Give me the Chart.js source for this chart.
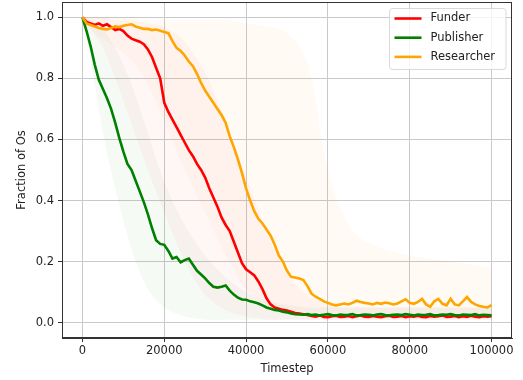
<!DOCTYPE html>
<html>
<head>
<meta charset="utf-8">
<script src="https://cdn.jsdelivr.net/npm/chart.js@4/dist/chart.umd.min.js"></script>
<style>
  body { margin: 0; background: #fff; }
  #wrap { width: 523px; height: 380px; }
</style>
</head>
<body>
<div id="wrap"><canvas id="chart" width="523" height="380"></canvas></div>
<script>
// start: data
const timesteps = []
for (let i = 0; i <= 100; i++) timesteps.push(i * 1000)

const funder = [
    1.000, 0.985, 0.980, 0.975, 0.980, 0.972, 0.977, 0.968, 0.958, 0.962,
    0.955, 0.940, 0.930, 0.925, 0.920, 0.912, 0.895, 0.870, 0.835, 0.800,
    0.720, 0.690, 0.665, 0.640, 0.615, 0.590, 0.565, 0.545, 0.520, 0.500,
    0.475, 0.440, 0.410, 0.380, 0.345, 0.320, 0.300, 0.265, 0.230, 0.195,
    0.175, 0.165, 0.155, 0.135, 0.110, 0.080, 0.060, 0.050, 0.046, 0.042,
    0.040, 0.036, 0.032, 0.030, 0.028, 0.025, 0.022, 0.020, 0.024, 0.019,
    0.018, 0.021, 0.023, 0.019, 0.020, 0.022, 0.018, 0.021, 0.024, 0.020,
    0.019, 0.022, 0.020, 0.018, 0.021, 0.023, 0.019, 0.020, 0.022, 0.018,
    0.021, 0.020, 0.023, 0.019, 0.018, 0.022, 0.020, 0.021, 0.024, 0.019,
    0.020, 0.022, 0.018, 0.021, 0.019, 0.023, 0.020, 0.018, 0.021, 0.020,
    0.021
]
const publisher = [
    1.000, 0.955, 0.905, 0.845, 0.795, 0.765, 0.735, 0.700, 0.655, 0.605,
    0.560, 0.520, 0.500, 0.465, 0.430, 0.395, 0.355, 0.310, 0.270, 0.258,
    0.255, 0.235, 0.210, 0.215, 0.198, 0.205, 0.210, 0.190, 0.170, 0.158,
    0.145, 0.130, 0.118, 0.115, 0.118, 0.122, 0.105, 0.092, 0.082, 0.076,
    0.075, 0.070, 0.067, 0.063, 0.057, 0.050, 0.046, 0.042, 0.040, 0.036,
    0.034, 0.030, 0.028, 0.027, 0.026, 0.028, 0.025, 0.027, 0.024, 0.026,
    0.028, 0.025, 0.024, 0.027, 0.025, 0.026, 0.028, 0.024, 0.025, 0.027,
    0.026, 0.024, 0.027, 0.028, 0.025, 0.024, 0.026, 0.027, 0.025, 0.028,
    0.026, 0.024, 0.027, 0.025, 0.026, 0.028, 0.024, 0.025, 0.027, 0.026,
    0.028, 0.025, 0.024, 0.027, 0.026, 0.025, 0.028, 0.024, 0.026, 0.025,
    0.024
]
const researcher = [
    1.000, 0.980, 0.975, 0.970, 0.965, 0.962, 0.960, 0.965, 0.970, 0.968,
    0.972, 0.975, 0.977, 0.970, 0.966, 0.962, 0.962, 0.958, 0.960, 0.956,
    0.952, 0.948, 0.922, 0.900, 0.890, 0.875, 0.855, 0.840, 0.815, 0.785,
    0.760, 0.740, 0.720, 0.700, 0.680, 0.655, 0.610, 0.575, 0.535, 0.490,
    0.440, 0.400, 0.365, 0.340, 0.325, 0.305, 0.285, 0.255, 0.220, 0.200,
    0.170, 0.150, 0.148, 0.145, 0.140, 0.120, 0.095, 0.085, 0.078, 0.070,
    0.065, 0.060, 0.057, 0.060, 0.063, 0.060, 0.065, 0.072, 0.068, 0.065,
    0.063, 0.060, 0.065, 0.062, 0.066, 0.064, 0.060, 0.063, 0.070, 0.077,
    0.065, 0.062, 0.068, 0.078, 0.060, 0.052, 0.070, 0.078, 0.062, 0.057,
    0.078, 0.060, 0.057, 0.070, 0.084, 0.068, 0.060, 0.055, 0.052, 0.050,
    0.058
]

// faint spread of the individual runs (lower / upper edge)
const bandSteps = [0, 2000, 5000, 8000, 12000, 16000, 20000, 25000, 30000, 35000, 40000, 45000, 50000, 55000, 60000, 65000, 70000, 80000, 90000, 100000]
const funderLow = [1.0, 0.96, 0.90, 0.80, 0.65, 0.50, 0.36, 0.20, 0.09, 0.04, 0.02, 0.01, 0.01, 0.01, 0.01, 0.01, 0.01, 0.01, 0.01, 0.01]
const funderHigh = [1.0, 1.0, 1.0, 0.99, 0.99, 0.98, 0.97, 0.92, 0.82, 0.66, 0.48, 0.30, 0.16, 0.09, 0.06, 0.05, 0.05, 0.05, 0.05, 0.05]
const publisherLow = [1.0, 0.86, 0.62, 0.44, 0.24, 0.11, 0.05, 0.02, 0.01, 0.01, 0.01, 0.01, 0.01, 0.01, 0.01, 0.01, 0.01, 0.01, 0.01, 0.01]
const publisherHigh = [1.0, 0.99, 0.96, 0.90, 0.78, 0.62, 0.46, 0.32, 0.22, 0.15, 0.10, 0.07, 0.06, 0.05, 0.05, 0.05, 0.05, 0.05, 0.05, 0.05]
const researcherLow = [1.0, 0.96, 0.93, 0.90, 0.86, 0.78, 0.66, 0.50, 0.36, 0.22, 0.11, 0.06, 0.035, 0.03, 0.03, 0.03, 0.03, 0.03, 0.03, 0.03]
const researcherHigh = [1.0, 1.0, 1.0, 1.0, 1.0, 0.99, 0.99, 0.99, 0.99, 0.99, 0.98, 0.97, 0.95, 0.85, 0.50, 0.32, 0.26, 0.22, 0.20, 0.18]

const xTicks = [0, 20000, 40000, 60000, 80000, 100000]
const yTicks = [0, 0.2, 0.4, 0.6, 0.8, 1.0]
// end: data

const FONT = 'DejaVu Sans'

function toPoints(xs, ys) {
    return xs.map(function (x, i) { return { x: x, y: ys[i] } })
}
function mainLine(label, ys, color, order) {
    return {
        label: label,
        data: toPoints(timesteps, ys),
        borderColor: color,
        backgroundColor: color,
        borderWidth: 2.6,
        pointRadius: 0,
        tension: 0,
        fill: false,
        order: order,
        main: true
    }
}
function bandPair(low, high, fillColor) {
    return [
        { label: '', data: toPoints(bandSteps, low), borderWidth: 0, borderColor: 'transparent', pointRadius: 0, tension: 0.3, fill: false, order: 10 },
        { label: '', data: toPoints(bandSteps, high), borderWidth: 0, borderColor: 'transparent', backgroundColor: fillColor, pointRadius: 0, tension: 0.3, fill: '-1', order: 10 }
    ]
}

// legend + frame drawn like matplotlib
const frameLegend = {
    id: 'frameLegend',
    afterDraw: function (chart) {
        const ctx = chart.ctx
        const a = chart.chartArea
        ctx.save()
        ctx.strokeStyle = '#333'
        ctx.lineWidth = 1
        ctx.strokeRect(a.left + 0.5, a.top + 0.5, a.right - a.left - 1, a.bottom - a.top - 1)

        const items = chart.data.datasets.filter(function (d) { return d.main })
        const bx = a.right - 122.5, by = a.top + 6.5, bw = 116.5, bh = 61
        ctx.beginPath()
        ctx.roundRect(bx, by, bw, bh, 3)
        ctx.fillStyle = 'rgba(255,255,255,0.8)'
        ctx.fill()
        ctx.strokeStyle = '#d9d9d9'
        ctx.stroke()
        ctx.font = '11.5px "' + FONT + '"'
        ctx.textBaseline = 'middle'
        items.forEach(function (d, i) {
            const y = by + 10 + i * 19.2
            ctx.beginPath()
            ctx.moveTo(bx + 5, y)
            ctx.lineTo(bx + 32, y)
            ctx.strokeStyle = d.borderColor
            ctx.lineWidth = 2.6
            ctx.stroke()
            ctx.fillStyle = '#222'
            ctx.fillText(d.label, bx + 41, y)
        })
        ctx.restore()
    }
}

new Chart(document.getElementById('chart'), {
    type: 'line',
    data: {
        datasets: [
            mainLine('Funder', funder, '#ff0000', 2),
            mainLine('Publisher', publisher, '#008000', 1),
            mainLine('Researcher', researcher, '#ffa500', 0),
            ...bandPair(funderLow, funderHigh, 'rgba(255,0,0,0.035)'),
            ...bandPair(publisherLow, publisherHigh, 'rgba(0,128,0,0.04)'),
            ...bandPair(researcherLow, researcherHigh, 'rgba(255,165,0,0.045)')
        ]
    },
    options: {
        responsive: false,
        animation: false,
        devicePixelRatio: 1,
        layout: { padding: { left: 0, right: 11, top: 2, bottom: 0 } },
        plugins: {
            legend: { display: false },
            tooltip: { enabled: false }
        },
        scales: {
            x: {
                type: 'linear',
                min: -5000,
                max: 105000,
                afterBuildTicks: function (scale) {
                    scale.ticks = xTicks.map(function (v) { return { value: v } })
                },
                afterFit: function (scale) {
                    scale.height = 42
                    scale.paddingLeft = 0
                    scale.paddingRight = 0
                },
                ticks: {
                    color: '#222',
                    font: { family: FONT, size: 11.5 },
                    padding: 2,
                    maxRotation: 0,
                    callback: function (v) { return String(v) }
                },
                grid: { color: '#c9c9c9', tickColor: '#333', tickLength: 4, lineWidth: 1 },
                border: { color: '#333' },
                title: {
                    display: true,
                    text: 'Timestep',
                    color: '#222',
                    font: { family: FONT, size: 11.5 },
                    padding: { top: 0, bottom: 4 }
                }
            },
            y: {
                min: -0.05,
                max: 1.05,
                afterBuildTicks: function (scale) {
                    scale.ticks = yTicks.map(function (v) { return { value: v } })
                },
                afterFit: function (scale) {
                    scale.width = 62
                    scale.paddingTop = 0
                    scale.paddingBottom = 0
                },
                ticks: {
                    color: '#222',
                    font: { family: FONT, size: 11.5 },
                    padding: 4,
                    callback: function (v) { return v.toFixed(1) }
                },
                grid: { color: '#c9c9c9', tickColor: '#333', tickLength: 4, lineWidth: 1 },
                border: { color: '#333' },
                title: {
                    display: true,
                    text: 'Fraction of Os',
                    color: '#222',
                    font: { family: FONT, size: 11.5 },
                    padding: { top: 15, bottom: 0 }
                }
            }
        }
    },
    plugins: [frameLegend]
});
</script>
</body>
</html>
